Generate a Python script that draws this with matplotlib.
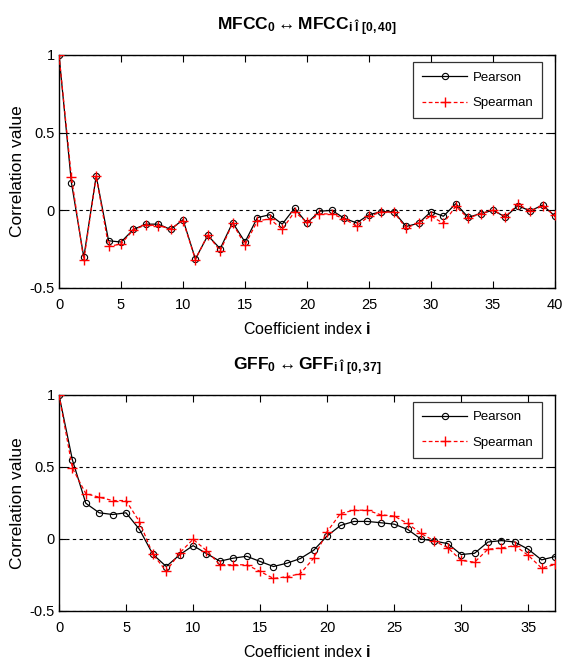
import matplotlib
matplotlib.use("Agg")
import matplotlib.pyplot as plt
import numpy as np

plt.rcParams['font.family'] = ['Liberation Sans', 'DejaVu Sans']
plt.rcParams['mathtext.fontset'] = 'custom'
plt.rcParams['mathtext.rm'] = 'Liberation Sans'
plt.rcParams['mathtext.bf'] = 'Liberation Sans:bold'
plt.rcParams['mathtext.it'] = 'Liberation Sans:italic'

# ---- data: MFCC ----
mfcc_idx = list(range(0, 41))
mfcc_pearson = [1.0, 0.179, -0.302, 0.221, -0.196, -0.204, -0.123, -0.089, -0.089, -0.123,
                -0.060, -0.313, -0.162, -0.247, -0.079, -0.204, -0.047, -0.028, -0.089, 0.014,
                -0.083, -0.006, 0.0, -0.051, -0.081, -0.028, -0.009, -0.009, -0.104, -0.083,
                -0.009, -0.038, 0.043, -0.045, -0.021, 0.0, -0.043, 0.030, -0.004, 0.034, -0.038]
mfcc_spearman = [1.0, 0.215, -0.321, 0.221, -0.232, -0.217, -0.125, -0.094, -0.098, -0.119,
                 -0.066, -0.317, -0.157, -0.262, -0.083, -0.223, -0.068, -0.055, -0.123, -0.009,
                 -0.077, -0.023, -0.023, -0.055, -0.100, -0.038, -0.011, -0.011, -0.115, -0.079,
                 -0.038, -0.083, 0.026, -0.051, -0.021, 0.0, -0.040, 0.038, -0.002, 0.026, -0.032]

# ---- data: GFF ----
gff_idx = list(range(0, 38))
gff_pearson = [1.0, 0.549, 0.248, 0.182, 0.170, 0.182, 0.067, -0.106, -0.191, -0.110,
               -0.046, -0.101, -0.154, -0.133, -0.120, -0.156, -0.191, -0.168, -0.136, -0.078,
               0.021, 0.094, 0.122, 0.122, 0.113, 0.103, 0.067, 0.0, -0.014, -0.032,
               -0.108, -0.099, -0.021, -0.011, -0.021, -0.071, -0.145, -0.122]
gff_spearman = [1.0, 0.492, 0.315, 0.290, 0.267, 0.267, 0.120, -0.106, -0.223, -0.097,
                -0.002, -0.080, -0.179, -0.179, -0.179, -0.225, -0.274, -0.262, -0.241, -0.133,
                0.051, 0.177, 0.200, 0.200, 0.168, 0.159, 0.108, 0.039, -0.014, -0.060,
                -0.149, -0.161, -0.071, -0.062, -0.046, -0.113, -0.202, -0.177]

yticks = [-0.5, 0, 0.5, 1]
ytick_labels = ['-0.5', '0', '0.5', '1']
mfcc_xticks = [0, 5, 10, 15, 20, 25, 30, 35, 40]
gff_xticks = [0, 5, 10, 15, 20, 25, 30, 35]

titles = [r"$\mathbf{MFCC_0} \leftrightarrow \mathbf{MFCC_{i\ Î\ [0,40]}}$",
          r"$\mathbf{GFF_0} \leftrightarrow \mathbf{GFF_{i\ Î\ [0,37]}}$"]

fig = plt.figure(figsize=(5.62, 6.62), dpi=100)
ax1 = fig.add_axes([59/562, 1-288/662, (555-59)/562, (288-55)/662])
ax2 = fig.add_axes([59/562, 1-611/662, (555-59)/562, (611-395)/662])

panels = [(ax1, mfcc_idx, mfcc_pearson, mfcc_spearman, mfcc_xticks, 40, titles[0]),
          (ax2, gff_idx, gff_pearson, gff_spearman, gff_xticks, 37, titles[1])]

for ax, x, p, s, xt, xmax, title in panels:
    ax.plot(x, p, color='black', lw=0.9, marker='o', ms=4.5, mfc='none', mec='black',
            mew=0.8, label='Pearson', zorder=3)
    ax.plot(x, s, color='red', lw=0.9, ls=(0, (3, 2)), marker='+', ms=6.5, mew=1.0,
            label='Spearman', zorder=4)
    ax.set_xlim(0, xmax)
    ax.set_ylim(-0.5, 1)
    ax.set_xticks(xt)
    ax.set_yticks(yticks)
    ax.set_yticklabels(ytick_labels)
    for yv in yticks:
        ax.axhline(yv, color='black', lw=0.8, ls=(0, (3, 3)), zorder=1)
    ax.tick_params(direction='in', top=True, right=True, length=5, width=0.8,
                   labelsize=10.5, pad=7)
    ax.tick_params(axis='y', pad=3)
    for sp in ax.spines.values():
        sp.set_linewidth(1.0)
    ax.set_xlabel(r'Coefficient index $\mathbf{i}$', fontsize=11.5, labelpad=7)
    ax.set_ylabel('Correlation value', fontsize=12.5, labelpad=3)
    ax.set_title(title, fontsize=12.5, pad=18)
    leg = ax.legend(loc='upper right', bbox_to_anchor=(0.98, 0.98), fontsize=9.5,
                    frameon=True, fancybox=False, edgecolor='black', handlelength=3.4,
                    borderpad=0.7, labelspacing=1.0, handletextpad=0.4,
                    borderaxespad=0.2, numpoints=1)
    leg.get_frame().set_linewidth(0.9)

fig.savefig('out.png', dpi=100)
